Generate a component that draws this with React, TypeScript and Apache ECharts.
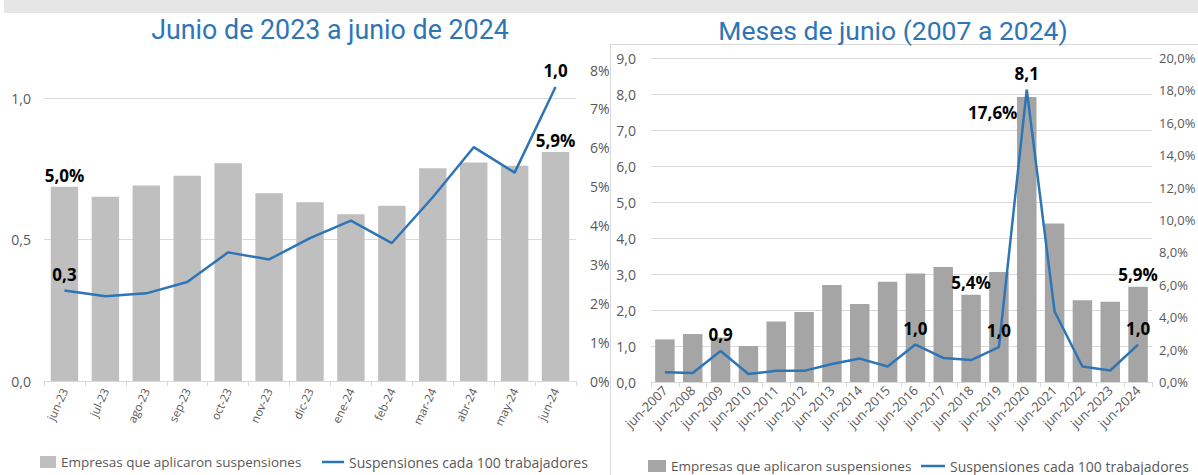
import React, { useEffect, useRef } from "react";
import * as echarts from "echarts";

// ---- Left panel: Junio de 2023 a junio de 2024 ----
const leftCategories = ["jun-23", "jul-23", "ago-23", "sep-23", "oct-23", "nov-23", "dic-23", "ene-24", "feb-24", "mar-24", "abr-24", "may-24", "jun-24"];
const leftEmpresas = [5.0, 4.74, 5.03, 5.28, 5.6, 4.83, 4.6, 4.29, 4.51, 5.47, 5.62, 5.54, 5.89];
const leftSuspensiones = [0.32, 0.3, 0.31, 0.35, 0.455, 0.43, 0.505, 0.567, 0.488, 0.65, 0.827, 0.737, 1.04];
const leftBarLabelIdx = [0, 12];
const leftLineLabelIdx = [0, 12];

// ---- Right panel: Meses de junio (2007 a 2024) ----
const rightCategories = ["jun-2007", "jun-2008", "jun-2009", "jun-2010", "jun-2011", "jun-2012", "jun-2013", "jun-2014", "jun-2015", "jun-2016", "jun-2017", "jun-2018", "jun-2019", "jun-2020", "jun-2021", "jun-2022", "jun-2023", "jun-2024"];
const rightEmpresas = [2.63, 2.96, 2.75, 2.22, 3.74, 4.32, 5.99, 4.81, 6.19, 6.7, 7.1, 5.38, 6.79, 17.59, 9.79, 5.04, 4.96, 5.88];
const rightSuspensiones = [0.27, 0.25, 0.86, 0.22, 0.31, 0.31, 0.5, 0.65, 0.43, 1.04, 0.67, 0.61, 0.97, 8.12, 1.96, 0.43, 0.32, 1.04];
const rightBarLabelIdx = [11, 13, 17];
const rightLineLabelIdx = [2, 9, 12, 13, 17];

const titleLeft = "Junio de 2023 a junio de 2024";
const titleRight = "Meses de junio (2007 a 2024)";
const nameBar = "Empresas que aplicaron suspensiones";
const nameLine = "Suspensiones cada 100 trabajadores";

const BLUE = "#2E75B6";
const AXIS_TEXT = "#595959";
const GRID = "#d9d9d9";
const FONT = "'Open Sans', 'Liberation Sans', sans-serif";

const comma = (v: number, d: number) => v.toFixed(d).replace(".", ",");

const labelStyle = {
  color: "#000",
  fontWeight: "bold" as const,
  fontSize: 17,
  fontFamily: FONT,
};

export default function App() {
  const ref = useRef<HTMLDivElement>(null);
  useEffect(() => {
    if (!ref.current) return;
    const chart = echarts.init(ref.current, null, { renderer: "svg" });

    const mkData = (vals: number[], idx: number[], extra?: Record<number, any>) =>
      vals.map((v, i) => ({
        value: v,
        label: { show: idx.includes(i), ...(extra && extra[i] ? extra[i] : {}) },
      }));

    const mkPoints = (vals: number[], idx: number[]) =>
      idx.map((i) => ({ coord: [i, vals[i]], value: vals[i] }));

    const legendTextA = { color: AXIS_TEXT, fontSize: 13.5, fontFamily: FONT };
    const legendTextB = { color: AXIS_TEXT, fontSize: 14, fontFamily: FONT };
    const strip = (n: string) => n.replace(" (2)", "");

    const option: any = {
      animation: false,
      backgroundColor: "#fff",
      textStyle: { fontFamily: FONT },
      graphic: [
        { type: "rect", shape: { x: 4, y: 0, width: 1194, height: 13 }, style: { fill: "#e6e6e6" }, silent: true },
        { type: "polyline", shape: { points: [[610.5, 475], [610.5, 44.5], [1198, 44.5]] }, style: { stroke: GRID, fill: null, lineWidth: 1 }, silent: true },
        { type: "text", x: 330, y: 30, style: { text: titleLeft, fill: BLUE, font: "26.8px Roboto", textAlign: "center", textVerticalAlign: "middle" } },
        { type: "text", x: 893, y: 30, style: { text: titleRight, fill: BLUE, font: "26.5px Roboto", textAlign: "center", textVerticalAlign: "middle" } },
      ],
      legend: [
        { left: 35, top: 450, itemWidth: 16, itemHeight: 12, textStyle: legendTextA, data: [{ name: nameBar, icon: "rect" }] },
        { left: 317, top: 450, itemWidth: 22, itemHeight: 2.5, textStyle: legendTextB, data: [{ name: nameLine, icon: "rect" }] },
        { left: 643, top: 454, itemWidth: 18, itemHeight: 12, textStyle: legendTextA, formatter: strip, data: [{ name: nameBar + " (2)", icon: "rect" }] },
        { left: 916, top: 454, itemWidth: 24, itemHeight: 2.5, textStyle: legendTextB, formatter: strip, data: [{ name: nameLine + " (2)", icon: "rect" }] },
      ],
      grid: [
        { left: 44, top: 70, width: 532, height: 311, outerBoundsMode: "none", containLabel: false },
        { left: 651, top: 58, width: 501, height: 324, outerBoundsMode: "none", containLabel: false },
      ],
      xAxis: [
        {
          type: "category",
          gridIndex: 0,
          data: leftCategories,
          axisLine: { lineStyle: { color: GRID } },
          axisTick: { show: true, length: 5, lineStyle: { color: GRID } },
          axisLabel: { rotate: 65, fontSize: 11.5, color: AXIS_TEXT, fontFamily: FONT, margin: 8 },
        },
        {
          type: "category",
          gridIndex: 1,
          data: rightCategories,
          axisLine: { lineStyle: { color: GRID } },
          axisTick: { show: true, length: 5, lineStyle: { color: GRID } },
          axisLabel: { rotate: 45, fontSize: 13, color: AXIS_TEXT, fontFamily: FONT, margin: 6, interval: 0 },
        },
      ],
      yAxis: [
        {
          type: "value",
          gridIndex: 0,
          position: "left",
          min: 0,
          max: 1.1,
          interval: 0.5,
          splitLine: { show: false },
          axisLine: { show: false },
          axisTick: { show: false },
          axisLabel: { showMaxLabel: false, color: AXIS_TEXT, fontSize: 14, fontFamily: FONT, margin: 13, formatter: (v: number) => (v > 1.05 ? "" : comma(v, 1)) },
        },
        {
          type: "value",
          gridIndex: 0,
          position: "right",
          min: 0,
          max: 8,
          interval: 1,
          splitLine: { show: false },
          axisLine: { show: false },
          axisTick: { show: false },
          axisLabel: { color: AXIS_TEXT, fontSize: 14, fontFamily: FONT, margin: 14, formatter: (v: number) => `${v}%` },
        },
        {
          type: "value",
          gridIndex: 1,
          position: "left",
          min: 0,
          max: 9,
          interval: 1,
          splitLine: { show: true, lineStyle: { color: GRID } },
          axisLine: { show: false },
          axisTick: { show: false },
          axisLabel: { color: AXIS_TEXT, fontSize: 14, fontFamily: FONT, margin: 15, formatter: (v: number) => comma(v, 1) },
        },
        {
          type: "value",
          gridIndex: 1,
          position: "right",
          min: 0,
          max: 20,
          interval: 2,
          splitLine: { show: false },
          axisLine: { show: false },
          axisTick: { show: false },
          axisLabel: { color: AXIS_TEXT, fontSize: 13, fontFamily: FONT, margin: 7, formatter: (v: number) => `${comma(v, 1)}%` },
        },
      ],
      series: [
        {
          name: nameBar,
          type: "bar",
          xAxisIndex: 0,
          yAxisIndex: 1,
          z: 6,
          barWidth: "67%",
          itemStyle: { color: "#bfbfbf" },
          label: { position: "top", distance: 3, ...labelStyle, formatter: (p: any) => `${comma(p.value, 1)}%` },
          data: mkData(leftEmpresas, leftBarLabelIdx),
        },
        {
          name: nameLine,
          type: "line",
          xAxisIndex: 0,
          yAxisIndex: 0,
          z: 7,
          symbol: "none",
          lineStyle: { color: BLUE, width: 2.5 },
          itemStyle: { color: BLUE },
          data: leftSuspensiones,
          markPoint: {
            z: 10,
            silent: true,
            symbol: "circle",
            symbolSize: 0,
            label: { show: true, position: "top", distance: 8, ...labelStyle, formatter: (p: any) => comma(p.value, 1) },
            data: mkPoints(leftSuspensiones, leftLineLabelIdx),
          },
          markLine: {
            silent: true,
            symbol: "none",
            label: { show: false },
            lineStyle: { color: GRID, width: 1, type: "solid" },
            data: [{ yAxis: 0.5 }, { yAxis: 1.0 }],
          },
        },
        {
          name: nameBar + " (2)",
          type: "bar",
          xAxisIndex: 1,
          yAxisIndex: 3,
          z: 6,
          barWidth: "70%",
          itemStyle: { color: "#a5a5a5" },
          label: { position: "top", distance: 4, ...labelStyle, formatter: (p: any) => `${comma(p.value, 1)}%` },
          data: mkData(rightEmpresas, rightBarLabelIdx, { 13: { offset: [-34, 28] } }),
        },
        {
          name: nameLine + " (2)",
          type: "line",
          xAxisIndex: 1,
          yAxisIndex: 2,
          z: 7,
          symbol: "none",
          lineStyle: { color: BLUE, width: 2.5 },
          itemStyle: { color: BLUE },
          data: rightSuspensiones,
          markPoint: {
            z: 10,
            silent: true,
            symbol: "circle",
            symbolSize: 0,
            label: { show: true, position: "top", distance: 8, ...labelStyle, formatter: (p: any) => comma(p.value, 1) },
            data: mkPoints(rightSuspensiones, rightLineLabelIdx),
          },
        },
      ],
    };
    chart.setOption(option);
    return () => chart.dispose();
  }, []);

  return <div ref={ref} style={{ position: "fixed", left: 0, top: 0, width: 1198, height: 475 }} />;
}
